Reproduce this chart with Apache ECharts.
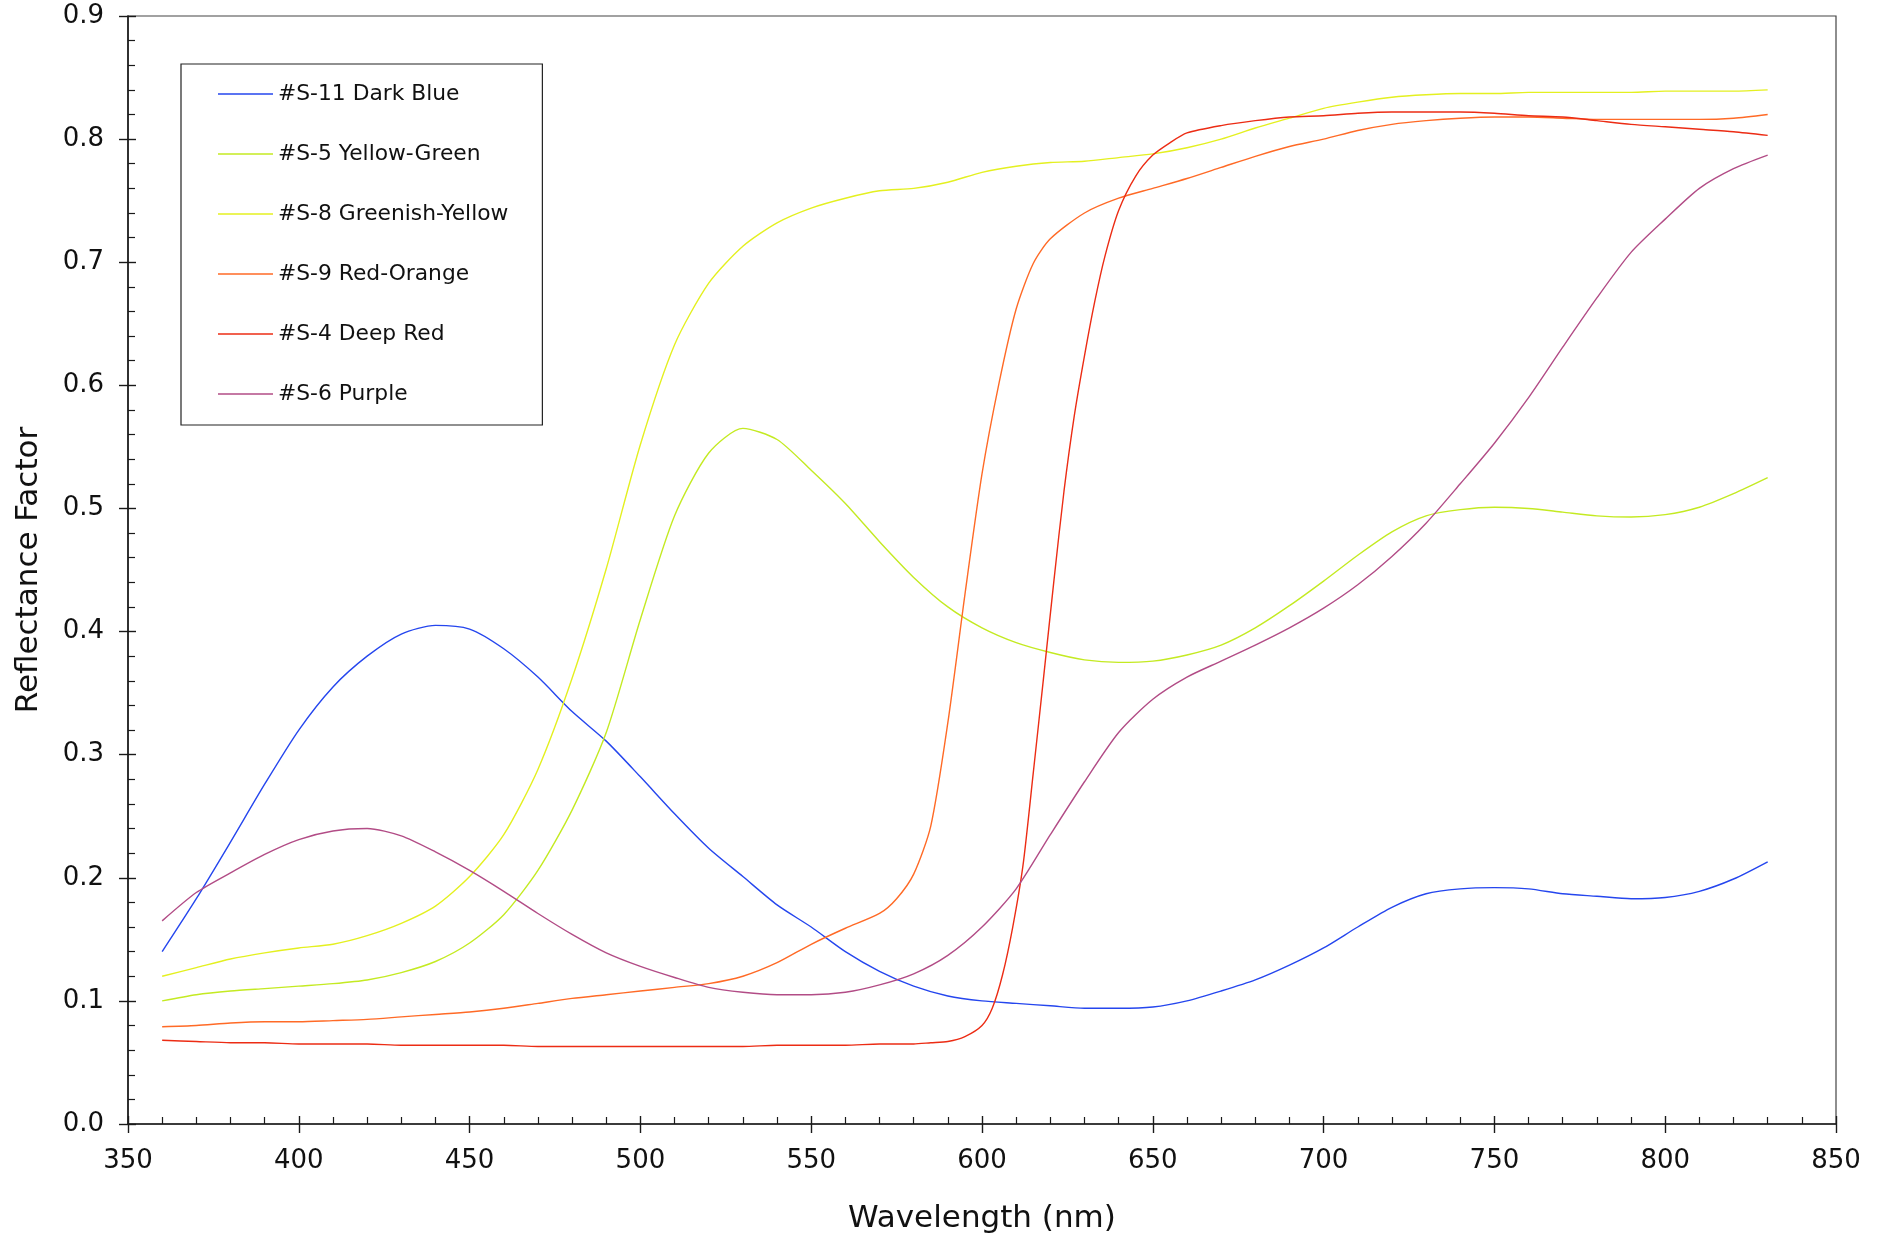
<!DOCTYPE html>
<html>
<head>
<meta charset="utf-8">
<title>Reflectance Factor</title>
<script src="https://cdn.jsdelivr.net/npm/echarts@6/dist/echarts.min.js"></script>
<style>
  html, body { margin: 0; padding: 0; background: #ffffff; }
  #chart { width: 1883px; height: 1236px; }
</style>
</head>
<body>
<div id="chart"></div>
<script>
// Wavelength samples (nm) shared by the smooth spectra
const wavelengths = [360, 370, 380, 390, 400, 410, 420, 430, 440, 450, 460, 470, 480, 490, 500, 510,
  520, 530, 540, 550, 560, 570, 580, 590, 600, 610, 620, 630, 640, 650, 660, 670, 680, 690, 700, 710,
  720, 730, 740, 750, 760, 770, 780, 790, 800, 810, 820, 830];

const darkBlue = [0.140, 0.183, 0.229, 0.276, 0.320, 0.355, 0.380, 0.398, 0.405, 0.402, 0.386, 0.363,
  0.335, 0.311, 0.282, 0.252, 0.224, 0.201, 0.178, 0.160, 0.140, 0.124, 0.112, 0.104, 0.100, 0.098,
  0.096, 0.094, 0.094, 0.095, 0.100, 0.108, 0.117, 0.129, 0.143, 0.160, 0.176, 0.187, 0.191, 0.192,
  0.191, 0.187, 0.185, 0.183, 0.184, 0.189, 0.199, 0.213];

const yellowGreen = [0.100, 0.105, 0.108, 0.110, 0.112, 0.114, 0.117, 0.123, 0.132, 0.147, 0.170,
  0.206, 0.255, 0.318, 0.410, 0.494, 0.545, 0.565, 0.556, 0.531, 0.504, 0.473, 0.444, 0.420, 0.403,
  0.391, 0.383, 0.377, 0.375, 0.376, 0.381, 0.389, 0.403, 0.421, 0.441, 0.462, 0.481, 0.494, 0.499,
  0.501, 0.500, 0.497, 0.494, 0.493, 0.495, 0.501, 0.512, 0.525];

const greenishYellow = [0.120, 0.127, 0.134, 0.139, 0.143, 0.146, 0.153, 0.163, 0.177, 0.201, 0.235,
  0.288, 0.362, 0.451, 0.552, 0.633, 0.683, 0.713, 0.732, 0.744, 0.752, 0.758, 0.760, 0.765, 0.773,
  0.778, 0.781, 0.782, 0.785, 0.788, 0.793, 0.800, 0.809, 0.817, 0.825, 0.830, 0.834, 0.836, 0.837,
  0.837, 0.838, 0.838, 0.838, 0.838, 0.839, 0.839, 0.839, 0.840];

const purple = [0.165, 0.188, 0.204, 0.219, 0.231, 0.238, 0.240, 0.234, 0.221, 0.206, 0.189, 0.171,
  0.154, 0.139, 0.128, 0.119, 0.111, 0.107, 0.105, 0.105, 0.107, 0.113, 0.122, 0.137, 0.160, 0.191,
  0.235, 0.278, 0.318, 0.345, 0.363, 0.376, 0.389, 0.403, 0.419, 0.438, 0.461, 0.488, 0.520, 0.553,
  0.590, 0.631, 0.671, 0.708, 0.735, 0.760, 0.776, 0.787];

// The two red samples rise steeply, so they are sampled more finely near the edge
const redOrangeWavelengths = [360, 370, 380, 390, 400, 410, 420, 430, 440, 450, 460, 470, 480, 490,
  500, 510, 520, 530, 540, 550, 560, 570, 575, 580, 585, 590, 595, 600, 605, 610, 615, 620, 630, 640,
  650, 660, 670, 680, 690, 700, 710, 720, 730, 740, 750, 760, 770, 780, 790, 800, 810, 820, 830];
const redOrange = [0.079, 0.080, 0.082, 0.083, 0.083, 0.084, 0.085, 0.087, 0.089, 0.091, 0.094, 0.098,
  0.102, 0.105, 0.108, 0.111, 0.114, 0.120, 0.131, 0.146, 0.159, 0.171, 0.183, 0.203, 0.242, 0.326,
  0.430, 0.528, 0.602, 0.662, 0.699, 0.719, 0.740, 0.752, 0.760, 0.768, 0.777, 0.786, 0.794, 0.800,
  0.807, 0.812, 0.815, 0.817, 0.818, 0.818, 0.817, 0.816, 0.816, 0.816, 0.816, 0.817, 0.820];

const deepRedWavelengths = [360, 370, 380, 390, 400, 410, 420, 430, 440, 450, 460, 470, 480, 490, 500,
  510, 520, 530, 540, 550, 560, 570, 580, 585, 590, 595, 600, 603, 606, 609, 612, 615, 618, 621, 624,
  627, 630, 633, 636, 640, 645, 650, 655, 660, 670, 680, 690, 700, 710, 720, 730, 740, 750, 760, 770,
  780, 790, 800, 810, 820, 830];
const deepRed = [0.068, 0.067, 0.066, 0.066, 0.065, 0.065, 0.065, 0.064, 0.064, 0.064, 0.064, 0.063,
  0.063, 0.063, 0.063, 0.063, 0.063, 0.063, 0.064, 0.064, 0.064, 0.065, 0.065, 0.066, 0.067, 0.071,
  0.080, 0.094, 0.121, 0.160, 0.210, 0.285, 0.362, 0.440, 0.514, 0.575, 0.624, 0.668, 0.705, 0.742,
  0.770, 0.787, 0.797, 0.805, 0.811, 0.815, 0.818, 0.819, 0.821, 0.822, 0.822, 0.822, 0.821, 0.819,
  0.818, 0.815, 0.812, 0.810, 0.808, 0.806, 0.803];

const seriesNames = ['#S-11 Dark Blue', '#S-5 Yellow-Green', '#S-8 Greenish-Yellow',
  '#S-9 Red-Orange', '#S-4 Deep Red', '#S-6 Purple'];
const seriesColors = ['#2546ee', '#c4ea22', '#e4f020', '#ff6a26', '#ec2c14', '#b24c86'];

const xTicks = { min: 350, max: 850, step: 50 };
const yTicks = { min: 0, max: 0.9, step: 0.1 };

function pairs(xs, ys) {
  return xs.map((x, i) => [x, ys[i]]);
}

const seriesData = [
  pairs(wavelengths, darkBlue),
  pairs(wavelengths, yellowGreen),
  pairs(wavelengths, greenishYellow),
  pairs(redOrangeWavelengths, redOrange),
  pairs(deepRedWavelengths, deepRed),
  pairs(wavelengths, purple)
];

const FONT = 'DejaVu Sans';
const AXIS_COLOR = '#1a1a1a';

const chart = echarts.init(document.getElementById('chart'), null, { renderer: 'canvas' });

// Primary axes carry labels, the line and inward ticks; the twin axes add the outward half of each major tick
function xAxisMain() {
  return {
    type: 'value', position: 'bottom', min: xTicks.min, max: xTicks.max, interval: xTicks.step,
    name: 'Wavelength (nm)', nameLocation: 'middle', nameGap: 79,
    nameTextStyle: { fontFamily: FONT, fontSize: 31, color: '#111' },
    axisLine: { show: true, onZero: false, lineStyle: { color: AXIS_COLOR, width: 1.6 } },
    axisTick: { show: true, inside: true, length: 8, lineStyle: { color: AXIS_COLOR, width: 1.4 } },
    minorTick: { show: true, splitNumber: 5, length: 7, lineStyle: { color: AXIS_COLOR, width: 1.2 } },
    axisLabel: { fontFamily: FONT, fontSize: 26, color: '#111', margin: 24 },
    splitLine: { show: false }
  };
}
function xAxisTwin() {
  return {
    type: 'value', position: 'bottom', min: xTicks.min, max: xTicks.max, interval: xTicks.step,
    axisLine: { show: false, onZero: false },
    axisTick: { show: true, inside: false, length: 9, lineStyle: { color: AXIS_COLOR, width: 1.4 } },
    axisLabel: { show: false }, splitLine: { show: false }
  };
}
function yAxisMain() {
  return {
    type: 'value', position: 'left', min: yTicks.min, max: yTicks.max, interval: yTicks.step,
    name: 'Reflectance Factor', nameLocation: 'middle', nameGap: 84,
    nameTextStyle: { fontFamily: FONT, fontSize: 31, color: '#111' },
    axisLine: { show: true, onZero: false, lineStyle: { color: AXIS_COLOR, width: 1.6 } },
    axisTick: { show: true, inside: true, length: 8, lineStyle: { color: AXIS_COLOR, width: 1.4 } },
    minorTick: { show: true, splitNumber: 5, length: 7, lineStyle: { color: AXIS_COLOR, width: 1.2 } },
    axisLabel: { fontFamily: FONT, fontSize: 26, color: '#111', margin: 24,
      formatter: v => v.toFixed(1) },
    splitLine: { show: false }
  };
}
function yAxisTwin() {
  return {
    type: 'value', position: 'left', min: yTicks.min, max: yTicks.max, interval: yTicks.step,
    axisLine: { show: false, onZero: false },
    axisTick: { show: true, inside: false, length: 9, lineStyle: { color: AXIS_COLOR, width: 1.4 } },
    axisLabel: { show: false }, splitLine: { show: false }
  };
}

const option = {
  backgroundColor: '#ffffff',
  animation: false,
  color: seriesColors,
  grid: {
    left: 128, right: 47, top: 16, bottom: 112,
    outerBoundsMode: 'none',
    containLabel: false,
    show: true, borderColor: '#444', borderWidth: 1.2, backgroundColor: 'transparent'
  },
  legend: {
    orient: 'vertical',
    left: 181, top: 64,
    padding: [18, 34, 19, 37],
    borderColor: '#222', borderWidth: 1.2,
    backgroundColor: '#ffffff',
    icon: 'rect',
    itemWidth: 55, itemHeight: 1.6, itemGap: 36,
    textStyle: { fontFamily: FONT, fontSize: 21.8, color: '#111', lineHeight: 24 },
    data: seriesNames
  },
  xAxis: [xAxisMain(), xAxisTwin()],
  yAxis: [yAxisMain(), yAxisTwin()],
  series: seriesNames.map((name, i) => ({
    name: name,
    type: 'line',
    xAxisIndex: 0, yAxisIndex: 0,
    data: seriesData[i],
    showSymbol: false,
    symbol: 'none',
    smooth: 0.25,
    lineStyle: { width: 1.4, color: seriesColors[i] },
    itemStyle: { color: seriesColors[i] },
    emphasis: { disabled: true }
  }))
};

chart.setOption(option);
</script>
</body>
</html>
